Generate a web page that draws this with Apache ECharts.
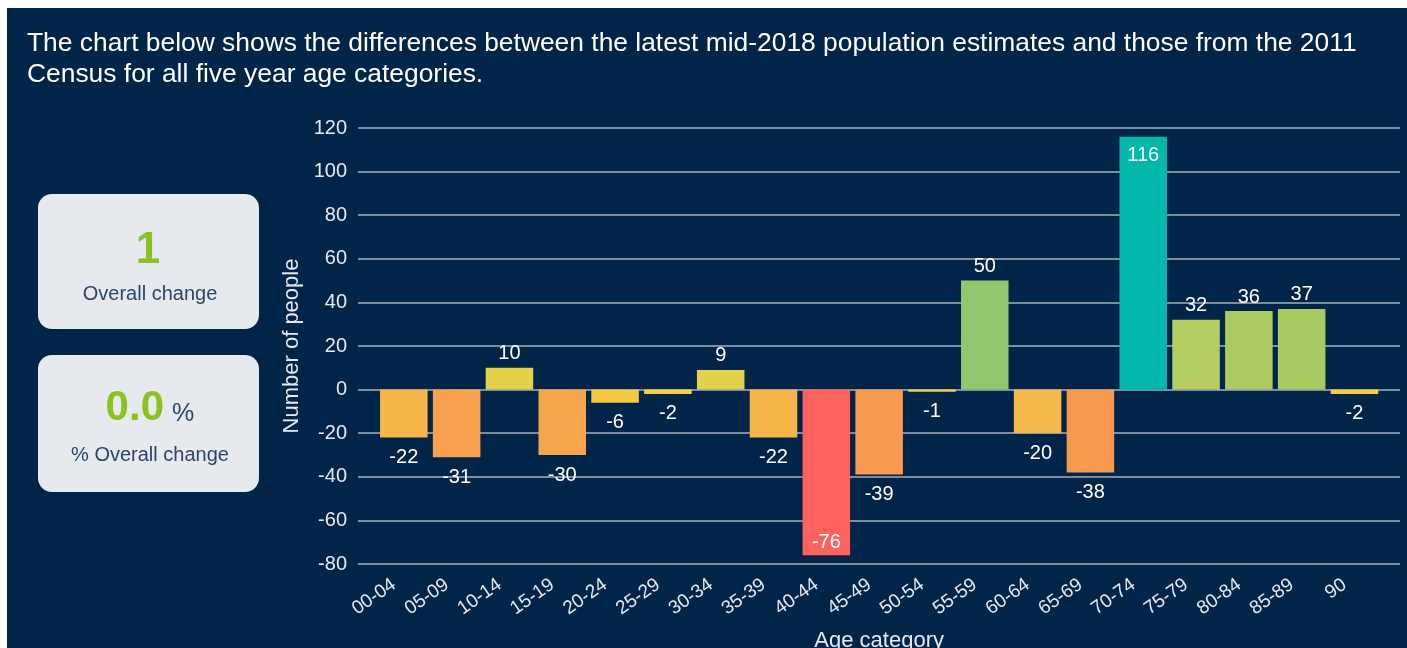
<!DOCTYPE html>
<html><head><meta charset="utf-8">
<script src="https://cdn.jsdelivr.net/npm/echarts@6/dist/echarts.min.js"></script>
<style>
html,body{margin:0;padding:0;background:#ffffff;overflow:hidden;width:1407px;height:648px;}
#chart{position:absolute;left:7px;top:8px;width:1400px;height:640px;}
</style></head><body><div id="chart"></div>
<script>
// ---- data ----
const titleText = 'The chart below shows the differences between the latest mid-2018 population estimates and those from the 2011\nCensus for all five year age categories.';
const categories = ['00-04','05-09','10-14','15-19','20-24','25-29','30-34','35-39','40-44','45-49','50-54','55-59','60-64','65-69','70-74','75-79','80-84','85-89','90'];
const values = [-22,-31,10,-30,-6,-2,9,-22,-76,-39,-1,50,-20,-38,116,32,36,37,-2];
const yMin = -80, yMax = 120, yInterval = 20;
const overallChange = '1';
const overallChangeLabel = 'Overall change';
const overallPct = '0.0';
const overallPctLabel = '% Overall change';
const yName = 'Number of people';
const xName = 'Age category';

// ---- style ----
const barColors = ['#F5B547','#F7A04D','#E2D149','#F5A64D','#F6C943','#F7CF40','#E2D14A','#F5B547','#FD625E','#F7994F','#F7D040','#8FC76D','#F5B84A','#F7994F','#01B8AA','#B3CD60','#ABCB61','#A8CA62','#F7CD40'];
const FONT = '"Liberation Sans", Arial, sans-serif';
const BG = '#012449';
const GRID = '#7d8ca1';
const TXT = '#E6EAF0';

const chart = echarts.init(document.getElementById('chart'), null, {renderer:'canvas'});

const seriesData = values.map((v,i) => {
  let pos, dist;
  if (v >= 0) {
    if (v > yMax - 10) { pos = 'insideTop'; dist = 9; } else { pos = 'top'; dist = 4; }
  } else {
    if (v < yMin + 10) { pos = 'insideBottom'; dist = 3; } else { pos = 'bottom'; dist = 10; }
  }
  return { value: v, itemStyle: { color: barColors[i] }, label: { position: pos, distance: dist } };
});

const option = {
  backgroundColor: BG,
  animation: false,
  textStyle: { fontFamily: FONT },
  title: {
    text: titleText, left: 20, top: 20, padding: 0,
    textStyle: { color: '#FFFFFF', fontSize: 26.4, fontWeight: 'normal', fontFamily: FONT, lineHeight: 31 }
  },
  grid: [
    { left: 351, right: 7, top: 120, bottom: 84, containLabel: false, outerBoundsMode: 'none' },
    { left: 370.4, right: 26.1, top: 120, bottom: 84, containLabel: false, outerBoundsMode: 'none' }
  ],
  xAxis: [
    { gridIndex: 0, type: 'value', min: 0, max: 1, show: false },
    { gridIndex: 1, type: 'category', data: categories,
      axisLine: { show: false }, axisTick: { show: false },
      axisLabel: { rotate: 35, margin: 12, padding: [0, 12, 0, 0], color: TXT, fontSize: 19, fontFamily: FONT, interval: 0 },
      name: xName, nameLocation: 'middle', nameGap: 66,
      nameTextStyle: { color: TXT, fontSize: 22, fontFamily: FONT }
    }
  ],
  yAxis: [
    { gridIndex: 0, type: 'value', min: yMin, max: yMax, interval: yInterval,
      axisLine: { show: false }, axisTick: { show: false },
      axisLabel: { margin: 11, color: TXT, fontSize: 20, fontFamily: FONT },
      splitLine: { show: true, lineStyle: { color: GRID, width: 2 } },
      name: yName, nameLocation: 'middle', nameGap: 52, nameRotate: 90,
      nameTextStyle: { color: TXT, fontSize: 22, fontFamily: FONT }
    },
    { gridIndex: 1, type: 'value', min: yMin, max: yMax, interval: yInterval, show: false, splitLine: { show: false } }
  ],
  series: [{
    type: 'bar', xAxisIndex: 1, yAxisIndex: 1,
    data: seriesData,
    barCategoryGap: '10%',
    label: { show: true, color: '#FFFFFF', fontSize: 20, fontFamily: FONT }
  }],
  graphic: [
    { type: 'rect', left: 31, top: 186, shape: { width: 221, height: 135, r: 14 }, style: { fill: '#E6E9EE' } },
    { type: 'rect', left: 31, top: 347, shape: { width: 221, height: 137, r: 14 }, style: { fill: '#E6E9EE' } },
    { type: 'text', x: 141, y: 243, style: { text: overallChange, fill: '#8CC21F', font: 'bold 44px ' + FONT, textAlign: 'center', textVerticalAlign: 'middle' } },
    { type: 'text', x: 143, y: 286, style: { text: overallChangeLabel, fill: '#2C4668', font: '20px ' + FONT, textAlign: 'center', textVerticalAlign: 'middle' } },
    { type: 'text', x: 157, y: 421, style: { text: overallPct, fill: '#8CC21F', font: 'bold 42px ' + FONT, textAlign: 'right', textVerticalAlign: 'bottom' } },
    { type: 'text', x: 165, y: 419, style: { text: '%', fill: '#2C4668', font: '25px ' + FONT, textAlign: 'left', textVerticalAlign: 'bottom' } },
    { type: 'text', x: 143, y: 447, style: { text: overallPctLabel, fill: '#2C4668', font: '20px ' + FONT, textAlign: 'center', textVerticalAlign: 'middle' } }
  ]
};
chart.setOption(option);
</script></body></html>
